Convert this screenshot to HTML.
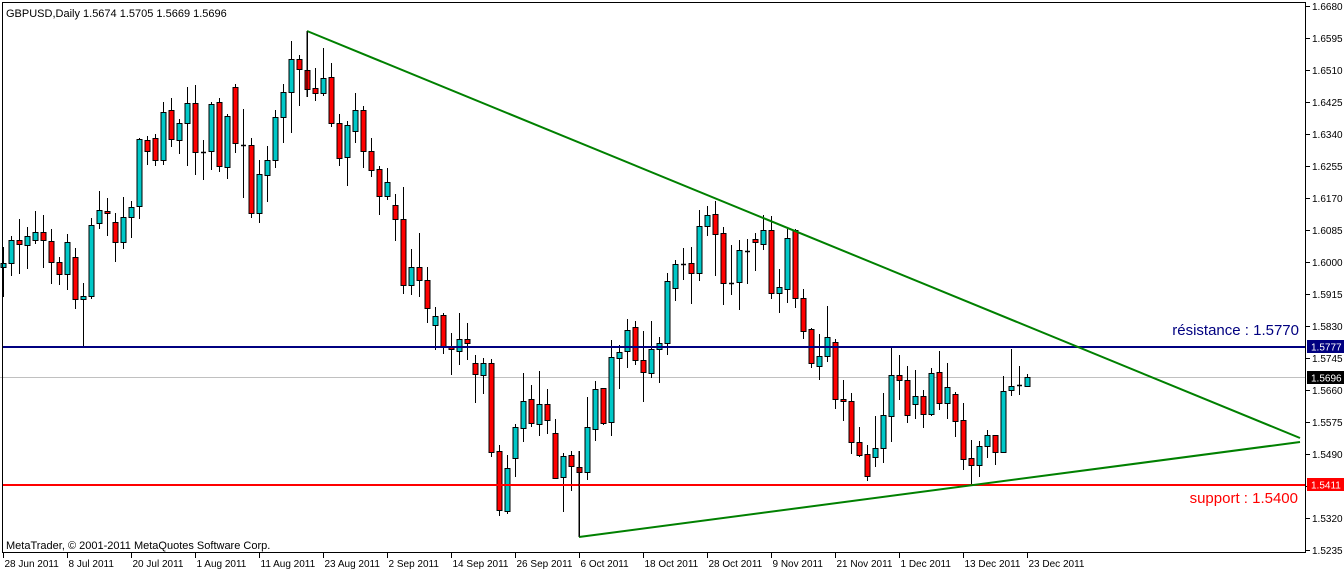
<!DOCTYPE html>
<html><head><meta charset="utf-8"><style>
html,body{margin:0;padding:0;background:#fff;width:1344px;height:570px;overflow:hidden}
svg{display:block}
text{font-family:"Liberation Sans",sans-serif}
</style></head><body>
<svg id="s" width="1344" height="570" xmlns="http://www.w3.org/2000/svg">
<rect x="0" y="0" width="1344" height="570" fill="#fff"/>
<line x1="0" y1="377.5" x2="1306" y2="377.5" stroke="#c0c0c0" stroke-width="1"/>
<g id="c"></g>
<line x1="2" y1="347" x2="1306" y2="347" stroke="#000080" stroke-width="2"/>
<line x1="2" y1="485" x2="1306" y2="485" stroke="#ff0000" stroke-width="2"/>
<line x1="307" y1="31" x2="1300" y2="438" stroke="#008000" stroke-width="2"/>
<line x1="579" y1="537" x2="1300" y2="442" stroke="#008000" stroke-width="2"/>
<line x1="307" y1="31" x2="307" y2="97" stroke="#000" stroke-width="1"/>
<line x1="579" y1="451" x2="579" y2="537" stroke="#000" stroke-width="1"/>
<rect x="2.5" y="2.5" width="1303" height="550" fill="none" stroke="#000" stroke-width="1"/>
<text x="6" y="17" font-size="11" fill="#000">GBPUSD,Daily  1.5674 1.5705 1.5669 1.5696</text>
<text x="6" y="549" font-size="11" fill="#000">MetaTrader, © 2001-2011 MetaQuotes Software Corp.</text>
<text x="1299" y="335" font-size="15" fill="#000080" text-anchor="end">résistance : 1.5770</text>
<text x="1298" y="503" font-size="15" fill="#ff0000" text-anchor="end">support : 1.5400</text>
<g id="ax" font-size="10" fill="#000"></g>
<g id="dx" font-size="10" fill="#000"></g>
<rect x="1307" y="340" width="37" height="13" fill="#000080"/>
<text x="1311" y="350.5" font-size="10" fill="#fff">1.5777</text>
<rect x="1307" y="371" width="37" height="13" fill="#000"/>
<text x="1311" y="381.5" font-size="10" fill="#fff">1.5696</text>
<rect x="1307" y="478" width="37" height="13" fill="#ff0000"/>
<text x="1311" y="488.5" font-size="10" fill="#fff">1.5411</text>
</svg>
<script>
var D=[
[263,267,247,297,'c'],[240,263,236,276,'c'],[240,244,219,274,'r'],[236,245,227,269,'c'],[232,240,211,244,'c'],
[232,240,215,268,'r'],[241,262,229,284,'r'],[262,274,257,285,'r'],[242,274,234,290,'c'],[257,299,248,309,'r'],
[296,299,283,347,'c'],[225,296,218,299,'c'],[210,223,191,229,'c'],[211,213,198,236,'r'],[222,242,213,262,'r'],
[217,242,197,249,'c'],[207,217,201,238,'c'],[139,206,138,219,'c'],[140,151,136,165,'r'],[138,160,134,166,'r'],
[112,160,102,165,'c'],[110,139,98,147,'r'],[123,140,119,154,'c'],[103,123,87,166,'c'],[103,152,85,175,'r'],
[152,152,140,180,'d'],[104,151,102,170,'c'],[102,166,98,172,'r'],[116,167,114,179,'c'],[87,143,84,153,'r'],
[145,145,109,198,'d'],[145,213,138,218,'r'],[174,213,160,223,'c'],[160,175,146,202,'c'],[117,160,110,168,'c'],
[92,117,84,143,'c'],[59,92,41,133,'c'],[59,69,55,106,'r'],[70,89,32,97,'r'],[88,93,68,101,'r'],
[78,93,48,96,'c'],[77,123,63,127,'r'],[123,158,114,166,'r'],[125,157,121,186,'c'],[110,131,93,143,'c'],
[110,151,106,168,'r'],[151,170,138,177,'r'],[169,196,166,215,'r'],[182,196,168,200,'c'],[205,219,194,241,'r'],
[219,285,187,294,'r'],[267,285,249,295,'c'],[267,280,233,297,'r'],[280,308,267,323,'r'],[316,325,307,350,'c'],
[315,347,313,354,'r'],[347,349,333,375,'r'],[339,351,313,365,'c'],[339,343,323,360,'r'],[363,374,355,403,'r'],
[363,375,358,394,'c'],[363,452,359,457,'r'],[451,510,445,516,'r'],[468,511,455,514,'c'],[427,458,424,477,'c'],
[401,428,373,442,'c'],[399,423,385,427,'r'],[404,424,371,436,'c'],[404,420,389,434,'r'],[433,478,419,479,'r'],
[456,477,453,512,'c'],[455,466,451,491,'r'],[467,472,451,537,'r'],[427,472,397,480,'c'],[389,429,381,441,'c'],
[388,423,388,425,'r'],[357,422,340,436,'c'],[352,358,345,389,'c'],[330,351,319,368,'c'],[327,360,321,365,'r'],
[360,372,331,402,'r'],[349,373,321,378,'c'],[343,349,337,383,'c'],[281,343,273,355,'c'],[264,288,260,301,'c'],
[264,264,248,280,'d'],[263,273,247,304,'r'],[226,273,210,281,'c'],[215,226,206,236,'c'],[214,234,201,276,'r'],
[233,283,227,305,'r'],[283,283,245,295,'d'],[250,282,240,310,'c'],[251,251,239,284,'d'],[239,242,233,271,'r'],
[230,244,215,250,'c'],[230,293,216,299,'r'],[287,293,269,313,'c'],[238,289,229,303,'c'],[230,298,229,308,'r'],
[298,331,289,339,'r'],[329,363,328,368,'r'],[356,366,334,380,'c'],[337,356,306,362,'c'],[342,399,339,409,'r'],
[399,401,380,421,'r'],[401,442,393,454,'r'],[442,455,427,457,'r'],[454,476,445,481,'r'],[448,457,416,467,'c'],
[415,448,393,463,'c'],[375,416,348,442,'c'],[375,380,355,400,'r'],[380,415,366,423,'r'],[396,404,370,419,'c'],
[396,414,390,428,'r'],[373,414,368,416,'c'],[372,403,351,410,'r'],[387,403,363,419,'c'],[394,421,392,437,'r'],
[420,459,403,470,'r'],[458,465,440,485,'r'],[446,465,441,477,'c'],[435,446,430,458,'c'],[435,452,435,465,'r'],
[391,452,376,453,'c'],[386,390,349,396,'c'],[385,385,366,395,'d'],[377,386,374,387,'c']];
var NS='http://www.w3.org/2000/svg',g=document.getElementById('c');
function el(n,a,p){var e=document.createElementNS(NS,n);for(var k in a)e.setAttribute(k,a[k]);(p||g).appendChild(e);return e;}
D.forEach(function(d,i){var x=3.5+8*i;
el('line',{x1:x,y1:d[2],x2:x,y2:d[3],stroke:'#000','stroke-width':1});
if(d[4]=='d'){el('line',{x1:x-2.5,y1:d[0]+.5,x2:x+2.5,y2:d[0]+.5,stroke:'#000','stroke-width':1.5});}
else{var h=Math.max(d[1]-d[0],2);el('rect',{x:x-2.5,y:d[0]+.5,width:5,height:h,fill:d[4]=='c'?'#00c8c8':'#ff0000',stroke:'#000','stroke-width':1});}
});
var ax=document.getElementById('ax');
var P=['1.6680','1.6595','1.6510','1.6425','1.6340','1.6255','1.6170','1.6085','1.6000','1.5915','1.5830','1.5745','1.5660','1.5575','1.5490','1.5405','1.5320','1.5235'];
P.forEach(function(p,i){var y=6+32*i;el('line',{x1:1306,y1:y+.5,x2:1310,y2:y+.5,stroke:'#000'},ax);var t=el('text',{x:1312,y:y+4},ax);t.textContent=p;});
var dx=document.getElementById('dx');
var L=['28 Jun 2011','8 Jul 2011','20 Jul 2011','1 Aug 2011','11 Aug 2011','23 Aug 2011','2 Sep 2011','14 Sep 2011','26 Sep 2011','6 Oct 2011','18 Oct 2011','28 Oct 2011','9 Nov 2011','21 Nov 2011','1 Dec 2011','13 Dec 2011','23 Dec 2011'];
L.forEach(function(s,i){var x=3.5+64*i;el('line',{x1:x,y1:553,x2:x,y2:558,stroke:'#000'},dx);var t=el('text',{x:x+1,y:567},dx);t.textContent=s;});
</script>
</body></html>
